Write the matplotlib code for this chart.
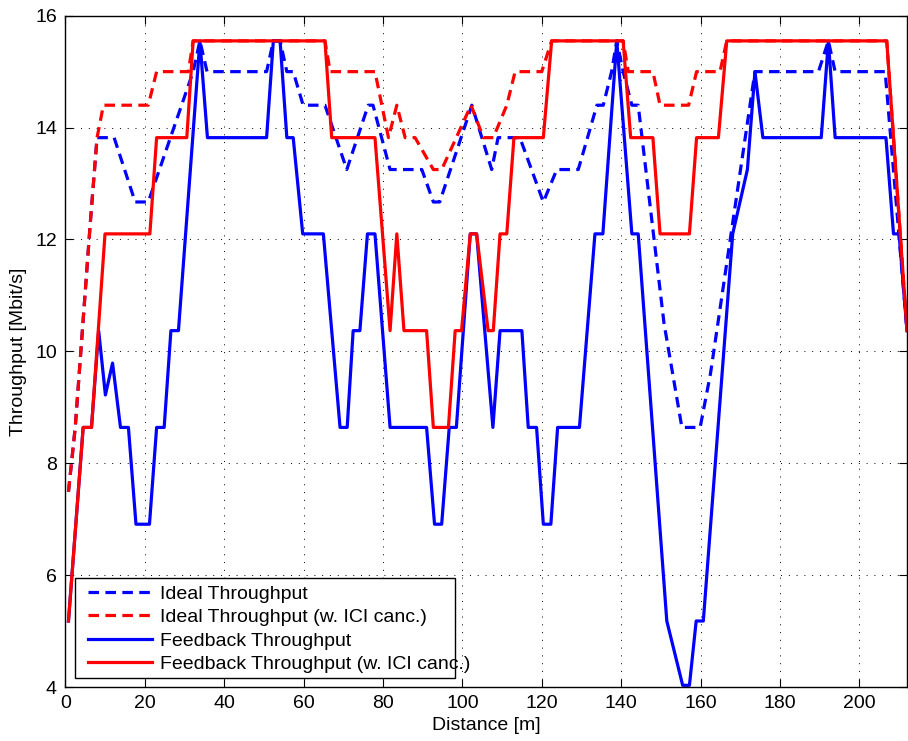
import matplotlib
matplotlib.use("Agg")
import matplotlib.pyplot as plt
from matplotlib.patches import Rectangle

plt.rcParams['font.family'] = ['Liberation Sans', 'DejaVu Sans']

# Ideal Throughput (blue dashed)
ideal_x = [0.8, 2.5, 4.3, 6.3, 8.0, 12.3, 17.6, 20.9, 32.2, 33.9, 35.7, 50.7, 52.4, 54.1,
           55.8, 57.4, 59.9, 65.4, 70.9, 76.3, 77.5, 81.8, 89.8, 92.7, 94.3, 102.4, 107.4,
           109.0, 114.5, 120.4, 123.8, 129.2, 133.9, 135.5, 137.6, 138.9, 140.5, 142.7,
           144.3, 150.8, 155.3, 159.9, 162.5, 173.7, 189.7, 192.2, 193.9, 206.5, 212.0]
ideal_y = [7.49, 8.64, 10.37, 12.3, 13.82, 13.82, 12.67, 12.67, 15.0, 15.55, 15.0, 15.0, 15.55, 15.55,
           15.0, 15.0, 14.4, 14.4, 13.25, 14.4, 14.4, 13.25, 13.25, 12.67, 12.67, 14.4, 13.25,
           13.82, 13.82, 12.67, 13.25, 13.25, 14.4, 14.4, 15.0, 15.55, 15.0, 14.4,
           14.4, 10.5, 8.64, 8.64, 9.6, 15.0, 15.0, 15.55, 15.0, 15.0, 10.37]

# Ideal Throughput (w. ICI canc.) (red dashed)
ideal_ici_x = [0.8, 2.5, 4.3, 6.3, 8.0, 9.6, 20.9, 23.0, 31.0, 32.2, 65.4, 66.7, 78.0, 81.4,
               83.5, 85.6, 88.1, 92.7, 94.8, 102.2, 105.3, 107.8, 111.2, 113.3, 120.0, 122.5,
               140.5, 141.8, 148.0, 149.8, 157.0, 159.0, 164.9, 166.6, 206.9, 212.0]
ideal_ici_y = [7.49, 8.64, 10.37, 12.3, 13.82, 14.4, 14.4, 15.0, 15.0, 15.55, 15.55, 15.0, 15.0, 13.82,
               14.4, 13.82, 13.82, 13.25, 13.25, 14.4, 13.82, 13.82, 14.4, 15.0, 15.0, 15.55,
               15.55, 15.0, 15.0, 14.4, 14.4, 15.0, 15.0, 15.55, 15.55, 10.37]

# Feedback Throughput (blue solid)
fb_x = [0.8, 4.5, 6.6, 8.4, 10.1, 11.9, 13.9, 15.9, 17.8, 21.2, 23.0, 24.9, 26.6, 28.5, 33.9,
        35.8, 50.7, 52.4, 54.1, 55.8, 57.4, 59.8, 65.0, 69.2, 71.0, 72.5, 74.2, 76.1, 78.0,
        81.8, 91.0, 93.0, 94.8, 96.7, 98.5, 102.0, 103.6, 107.7, 109.5, 115.0, 116.6, 118.7,
        120.4, 122.3, 124.0, 129.5, 133.4, 135.4, 138.9, 142.7, 144.3, 151.5, 155.5, 157.2,
        158.9, 160.7, 168.1, 171.8, 173.7, 175.7, 190.4, 192.2, 193.9, 206.7, 208.6, 210.0, 212.0]
fb_y = [5.18, 8.64, 8.64, 10.37, 9.22, 9.79, 8.64, 8.64, 6.91, 6.91, 8.64, 8.64, 10.37, 10.37, 15.55,
        13.82, 13.82, 15.55, 15.55, 13.82, 13.82, 12.1, 12.1, 8.64, 8.64, 10.37, 10.37, 12.1, 12.1,
        8.64, 8.64, 6.91, 6.91, 8.64, 8.64, 12.1, 12.1, 8.64, 10.37, 10.37, 8.64, 8.64,
        6.91, 6.91, 8.64, 8.64, 12.1, 12.1, 15.55, 12.1, 12.1, 5.18, 4.03, 4.03,
        5.18, 5.18, 12.1, 13.25, 15.0, 13.82, 13.82, 15.55, 13.82, 13.82, 12.1, 12.1, 10.37]

# Feedback Throughput (w. ICI canc.) (red solid)
fb_ici_x = [0.8, 4.5, 6.6, 10.0, 21.3, 23.0, 30.6, 32.2, 65.4, 67.1, 78.0, 81.8, 83.5, 85.3,
            91.0, 92.7, 96.5, 98.2, 99.8, 102.0, 103.6, 106.5, 107.8, 109.5, 111.2, 113.0,
            120.4, 122.5, 140.5, 142.4, 148.0, 149.8, 157.2, 159.0, 164.5, 166.6, 206.9, 212.0]
fb_ici_y = [5.18, 8.64, 8.64, 12.1, 12.1, 13.82, 13.82, 15.55, 15.55, 13.82, 13.82, 10.37, 12.1, 10.37,
            10.37, 8.64, 8.64, 10.37, 10.37, 12.1, 12.1, 10.37, 10.37, 12.1, 12.1, 13.82,
            13.82, 15.55, 15.55, 13.82, 13.82, 12.1, 12.1, 13.82, 13.82, 15.55, 15.55, 10.37]

labels = ['Ideal Throughput', 'Ideal Throughput (w. ICI canc.)',
          'Feedback Throughput', 'Feedback Throughput (w. ICI canc.)']
x_ticks = [0, 20, 40, 60, 80, 100, 120, 140, 160, 180, 200]
y_ticks = [4, 6, 8, 10, 12, 14, 16]

W, H = 908, 741
fig = plt.figure(figsize=(W / 100, H / 100), dpi=100)
ax_l, ax_r, ax_t, ax_b = 65.3, 907.0, 15.7, 687.0
ax = fig.add_axes([ax_l / W, 1 - ax_b / H, (ax_r - ax_l) / W, (ax_b - ax_t) / H])

lw = 2.3
dash = (3.3, 2.0)
ax.plot(ideal_x, ideal_y, color=(0, 0, 1), lw=lw, dashes=dash, label=labels[0])
ax.plot(ideal_ici_x, ideal_ici_y, color=(1, 0, 0), lw=lw, dashes=dash, label=labels[1])
ax.plot(fb_x, fb_y, color=(0, 0, 1), lw=lw, label=labels[2])
ax.plot(fb_ici_x, fb_ici_y, color=(1, 0, 0), lw=lw, label=labels[3])

ax.set_xlim(0, 212)
ax.set_ylim(4, 16)
ax.set_xticks(x_ticks)
ax.set_yticks(y_ticks)
ax.tick_params(direction='in', length=6, width=0.8, top=True, right=True,
               labelsize=14, pad=6)
ax.grid(True, color='black', linestyle=(0, (1, 7)), linewidth=0.7)
for s in ax.spines.values():
    s.set_linewidth(1.0)
ax.set_xlabel('Distance [m]', fontsize=14, labelpad=3)
ax.set_ylabel('Throughput [Mbit/s]', fontsize=14, labelpad=6)


def axfrac(px, py):
    return ((px - ax_l) / (ax_r - ax_l), (ax_b - py) / (ax_b - ax_t))


# legend box (text overflows the frame slightly, as in the original)
bx0, by0 = axfrac(75, 678)
bx1, by1 = axfrac(455, 578)
ax.add_patch(Rectangle((bx0, by0), bx1 - bx0, by1 - by0, transform=ax.transAxes,
                       facecolor='white', edgecolor='black', linewidth=1.0, zorder=4))
lx, ly = axfrac(88, 585)
leg = ax.legend(loc='upper left', bbox_to_anchor=(lx, ly), borderaxespad=0,
                fontsize=14, handlelength=3.3, handletextpad=0.4, labelspacing=0.3,
                borderpad=0, frameon=False)
leg.set_zorder(5)

fig.savefig('out.png', dpi=100)
